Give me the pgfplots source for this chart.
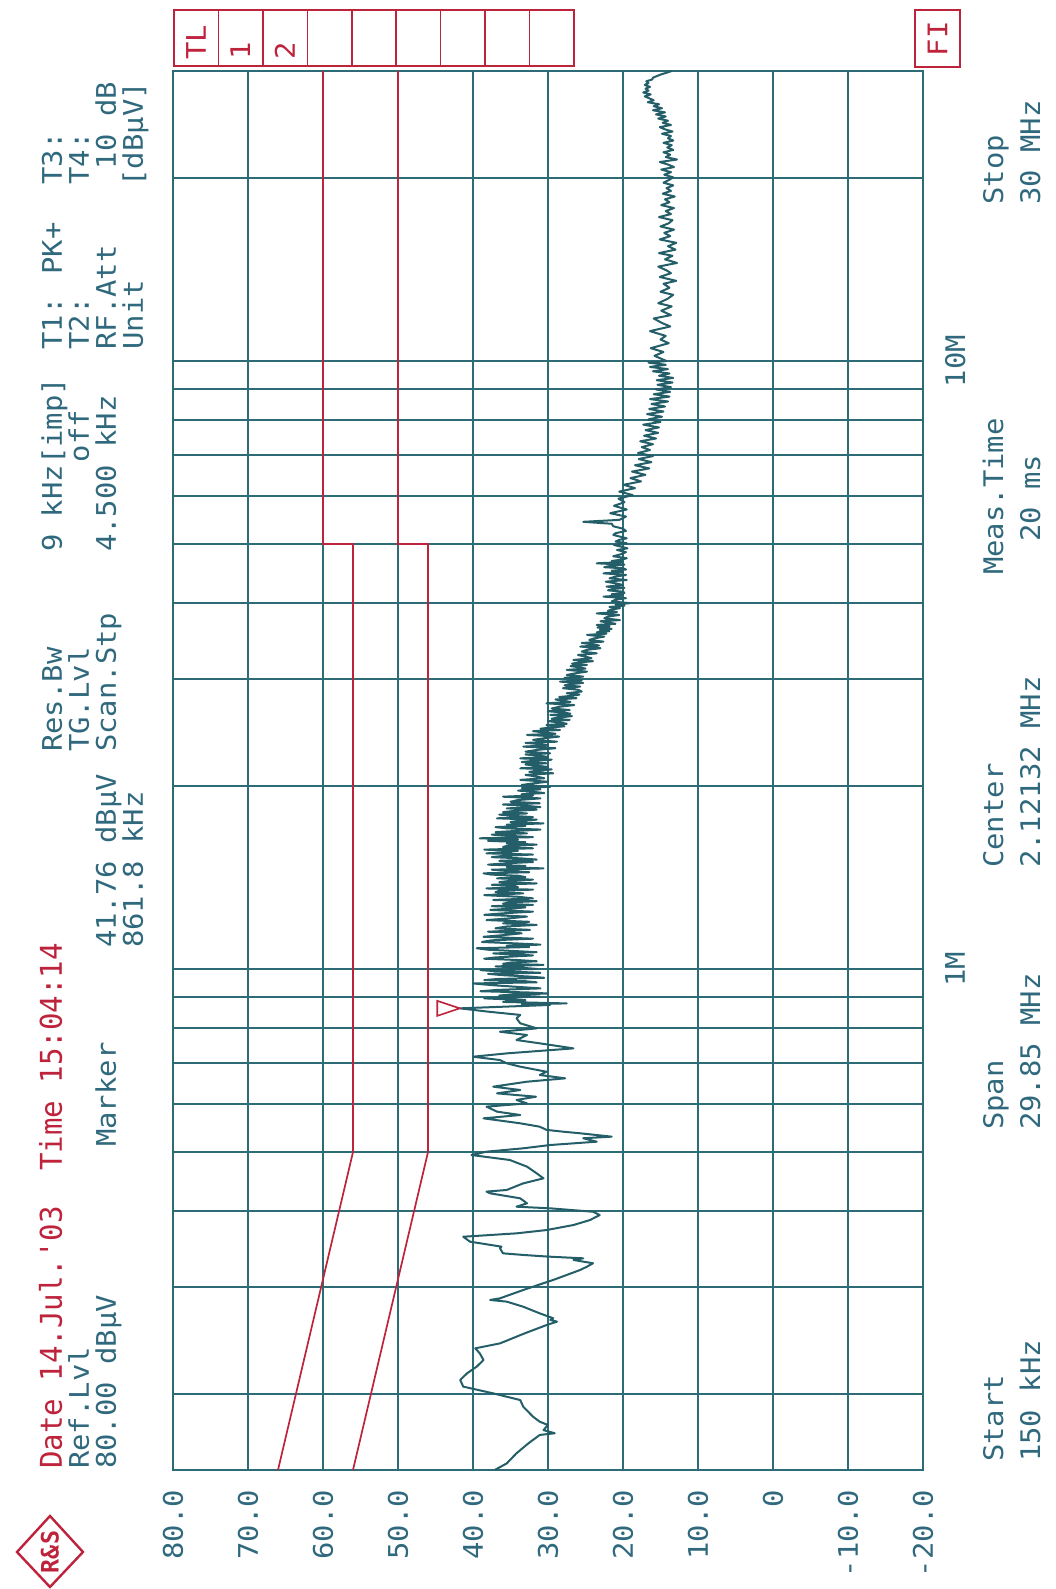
\documentclass[border=0pt]{standalone}
\usepackage{pgfplots}
\pgfplotsset{compat=1.18}
\usepackage{pgfplotstable}
\usepackage{fontspec}
\newfontfamily\plotfont[FakeStretch=1.07]{DejaVu Sans Mono}
\newfontfamily\redfont[FakeStretch=0.97]{DejaVu Sans Mono}
\newcommand\pf{\plotfont\fontsize{27}{27}\selectfont}
\newcommand\rf{\redfont\fontsize{30}{30}\selectfont}
\definecolor{gridc}{RGB}{45,108,118}
\definecolor{tracec}{RGB}{36,94,104}
\definecolor{txtc}{RGB}{48,105,125}
\definecolor{redc}{RGB}{190,35,60}

\pgfplotstableread{
f L
0.1500 37.1
0.1538 35.5
0.1598 34.2
0.1660 32.6
0.1713 31.1
0.1724 29.1
0.1745 30.6
0.1779 30.0
0.1801 31.1
0.1836 32.0
0.1907 33.3
0.1955 33.7
0.2005 37.3
0.2057 41.3
0.2109 41.7
0.2163 40.8
0.2219 39.5
0.2275 38.6
0.2334 39.1
0.2378 39.7
0.2423 36.4
0.2517 33.1
0.2597 30.2
0.2631 28.8
0.2648 29.7
0.2665 29.3
0.2715 31.1
0.2784 33.3
0.2838 35.5
0.2856 37.7
0.2874 36.4
0.2966 33.3
0.3081 29.3
0.3200 25.7
0.3240 24.8
0.3282 24.0
0.3323 26.6
0.3344 25.3
0.3366 30.0
0.3387 33.3
0.3408 36.0
0.3474 36.4
0.3495 36.2
0.3562 40.4
0.3629 41.3
0.3676 34.2
0.3722 30.2
0.3794 26.6
0.3866 24.4
0.3940 23.1
0.3990 24.0
0.4041 29.7
0.4066 34.2
0.4118 32.8
0.4197 33.7
0.4277 37.7
0.4305 38.2
0.4332 35.5
0.4442 33.3
0.4527 30.6
0.4613 31.5
0.4732 32.8
0.4853 35.1
0.4945 40.2
0.5008 38.2
0.5072 33.3
0.5136 29.7
0.5201 23.5
0.5269 25.3
0.5301 21.5
0.5369 25.7
0.5402 28.0
0.5439 30.2
0.5505 31.1
0.5576 33.7
0.5682 38.6
0.5754 33.7
0.5828 36.8
0.5939 38.2
0.6014 32.8
0.6091 34.2
0.6167 31.6
0.6246 36.8
0.6326 33.7
0.6406 37.3
0.6528 32.8
0.6611 27.7
0.6696 31.1
0.6779 30.2
0.6910 33.7
0.6998 35.5
0.7086 36.4
0.7176 40.0
0.7267 35.5
0.7406 26.6
0.7549 31.1
0.7644 34.2
0.7791 32.8
0.7889 36.4
0.7989 31.5
0.8143 33.7
0.8300 34.2
0.8406 33.7
0.8511 38.0
0.8618 41.76
0.8729 29.7
0.8760 33.5
0.8780 27.5
0.8830 36.0
0.8890 33.0
0.8950 38.5
0.9010 31.1
0.9045 36.5
0.9080 35.0
0.9115 30.0
0.9150 32.4
0.9195 39.0
0.9240 36.8
0.9295 31.0
0.9350 34.2
0.9410 37.5
0.9470 40.0
0.9510 31.5
0.9550 33.0
0.9590 38.5
0.9630 36.8
0.9675 30.5
0.9720 32.4
0.9770 36.0
0.9820 38.0
0.9860 31.0
0.9900 34.5
0.9930 37.5
0.9960 39.0
1.0005 31.5
1.005 33.5
1.010 37.0
1.016 30.6
1.020 36.0
1.025 35.0
1.030 31.5
1.035 34.2
1.040 38.5
1.045 37.0
1.053 32.0
1.061 37.3
1.066 31.5
1.070 34.0
1.076 38.0
1.082 39.5
1.087 32.5
1.092 35.5
1.097 31.0
1.102 34.2
1.108 38.8
1.115 37.5
1.122 32.0
1.130 38.6
1.137 36.0
1.145 33.5
1.152 38.0
1.160 32.4
1.167 37.0
1.175 35.5
1.182 31.5
1.189 36.0
1.196 32.5
1.204 38.2
1.212 35.0
1.220 32.8
1.228 38.5
1.235 36.0
1.243 32.0
1.251 37.7
1.257 35.0
1.263 33.0
1.269 37.5
1.275 32.0
1.281 36.0
1.288 35.0
1.293 31.5
1.299 37.3
1.307 32.0
1.315 34.0
1.323 38.5
1.332 33.3
1.338 37.0
1.345 36.5
1.351 32.0
1.357 38.2
1.363 34.0
1.370 34.5
1.376 37.5
1.383 31.5
1.390 36.5
1.397 35.0
1.403 32.0
1.410 36.8
1.417 33.0
1.424 34.0
1.430 37.5
1.437 38.6
1.443 32.5
1.450 35.0
1.457 37.5
1.464 30.6
1.471 35.5
1.478 33.0
1.485 38.0
1.493 35.5
1.500 32.0
1.507 36.5
1.514 31.5
1.521 33.7
1.528 37.5
1.535 36.0
1.543 32.0
1.550 38.2
1.557 35.5
1.565 34.0
1.572 38.5
1.580 32.0
1.587 36.0
1.595 35.5
1.602 31.5
1.610 35.5
1.617 33.0
1.625 38.0
1.633 34.0
1.641 39.1
1.648 32.0
1.656 35.0
1.664 37.5
1.672 32.8
1.680 37.0
1.688 34.0
1.696 31.0
1.704 35.5
1.712 37.0
1.720 33.0
1.728 35.5
1.736 30.6
1.745 35.0
1.753 34.0
1.761 31.5
1.770 36.8
1.778 32.0
1.786 34.5
1.795 36.5
1.803 32.8
1.812 36.0
1.820 34.5
1.829 31.5
1.838 35.5
1.847 31.0
1.856 33.0
1.865 36.0
1.874 31.1
1.885 35.0
1.897 34.0
1.909 31.0
1.921 36.0
1.930 32.0
1.939 33.5
1.948 30.5
1.957 32.0
1.966 34.0
1.975 31.0
1.985 33.5
1.995 29.7
2.008 33.5
2.020 32.0
2.033 30.0
2.047 33.7
2.060 30.5
2.073 31.5
2.086 33.0
2.099 29.3
2.110 32.5
2.120 31.5
2.130 29.5
2.139 33.7
2.150 30.0
2.160 31.5
2.170 33.0
2.180 30.2
2.190 33.5
2.200 32.0
2.210 29.5
2.221 33.7
2.232 30.0
2.243 31.0
2.254 33.0
2.264 29.7
2.278 33.0
2.293 31.5
2.308 29.0
2.322 33.3
2.333 30.0
2.344 31.0
2.355 33.0
2.366 28.8
2.382 32.0
2.397 30.5
2.412 28.5
2.427 32.8
2.438 29.0
2.450 30.5
2.462 32.0
2.473 28.4
2.485 31.0
2.497 29.5
2.508 27.8
2.520 30.2
2.532 27.5
2.545 28.5
2.557 30.0
2.569 27.1
2.581 29.5
2.594 28.5
2.606 26.8
2.618 29.7
2.630 27.0
2.643 28.0
2.655 30.0
2.667 27.1
2.683 29.5
2.700 28.5
2.718 26.5
2.736 30.2
2.750 27.0
2.763 28.0
2.776 29.0
2.789 26.2
2.802 28.5
2.815 26.8
2.828 25.8
2.842 27.5
2.861 25.5
2.880 26.0
2.897 28.0
2.915 25.7
2.928 27.8
2.942 27.0
2.956 25.3
2.970 28.4
2.985 25.5
3.000 26.5
3.013 27.8
3.027 25.3
3.046 27.5
3.066 26.3
3.085 24.8
3.105 27.5
3.120 25.0
3.135 25.8
3.150 27.0
3.164 24.8
3.179 26.8
3.194 25.8
3.209 24.0
3.224 26.6
3.245 24.2
3.265 25.0
3.285 26.0
3.306 23.5
3.328 25.5
3.350 24.8
3.371 23.0
3.392 25.7
3.406 23.2
3.420 24.0
3.438 25.5
3.456 22.6
3.478 24.5
3.500 23.8
3.522 22.5
3.545 24.8
3.562 22.2
3.580 23.5
3.596 21.8
3.611 23.1
3.628 21.5
3.645 23.4
3.663 21.8
3.681 23.5
3.698 21.0
3.715 22.0
3.733 23.0
3.750 20.4
3.775 22.5
3.800 22.0
3.823 20.5
3.846 23.5
3.866 20.8
3.885 22.0
3.904 21.5
3.923 20.4
3.941 21.8
3.960 19.8
3.979 21.0
3.998 19.1
4.024 21.5
4.050 21.0
4.074 19.6
4.098 22.6
4.117 20.0
4.135 21.5
4.156 19.8
4.176 20.0
4.196 22.0
4.215 21.5
4.236 19.8
4.256 22.2
4.283 20.0
4.310 21.0
4.337 22.3
4.364 19.5
4.392 21.8
4.420 21.0
4.448 19.6
4.476 22.6
4.498 20.0
4.520 21.5
4.541 19.6
4.562 20.0
4.581 22.5
4.600 21.8
4.625 19.8
4.649 23.5
4.670 20.0
4.690 21.5
4.715 20.2
4.739 19.5
4.775 21.3
4.810 20.3
4.850 19.6
4.890 20.8
4.920 19.4
4.950 20.2
4.983 21.2
5.016 19.5
5.048 21.0
5.080 20.5
5.111 19.5
5.143 20.4
5.176 21.3
5.210 21.0
5.255 19.6
5.300 20.0
5.350 21.3
5.400 21.5
5.440 25.3
5.480 20.5
5.550 19.6
5.620 21.7
5.700 19.5
5.780 21.2
5.860 19.8
5.940 20.6
6.020 18.7
6.100 20.5
6.180 18.4
6.260 19.9
6.340 17.6
6.420 19.0
6.500 17.0
6.580 18.8
6.660 16.5
6.740 18.4
6.820 16.2
6.900 17.9
6.980 16.0
7.060 18.0
7.140 16.4
7.220 17.5
7.300 16.0
7.380 17.7
7.460 15.6
7.540 17.2
7.620 15.3
7.700 17.0
7.780 15.2
7.860 17.3
7.940 15.0
8.020 16.6
8.100 14.8
8.180 16.8
8.260 14.6
8.340 16.5
8.420 14.4
8.500 16.2
8.580 14.0
8.660 16.4
8.740 13.8
8.820 15.9
8.900 13.7
8.980 15.6
9.060 13.6
9.140 15.4
9.220 13.4
9.300 15.5
9.380 13.3
9.460 15.2
9.540 13.8
9.620 16.0
9.700 14.0
9.780 16.4
9.860 14.3
9.940 16.6
10.00 14.2
10.20 15.8
10.35 14.6
10.50 16.3
10.70 13.9
10.85 15.0
11.00 14.3
11.20 16.4
11.40 13.7
11.55 14.8
11.75 15.9
11.90 13.6
12.10 14.9
12.30 13.5
12.45 15.3
12.65 14.1
12.85 13.3
13.00 15.0
13.20 13.8
13.40 14.6
13.55 12.9
13.75 15.1
13.95 13.6
14.10 14.2
14.30 15.3
14.50 12.8
14.70 14.4
14.90 13.4
15.05 15.2
15.25 13.0
15.45 14.0
15.65 12.9
15.85 15.1
16.05 13.7
16.25 14.5
16.45 13.2
16.65 15.0
16.85 13.9
17.05 13.4
17.25 15.2
17.45 13.6
17.65 14.3
17.85 13.2
18.05 14.9
18.25 13.8
18.45 14.4
18.65 13.1
18.85 14.7
19.05 13.6
19.25 14.2
19.45 13.3
19.65 14.6
19.85 13.9
20.05 13.3
20.25 14.5
20.45 13.6
20.65 14.9
20.85 13.2
21.05 14.0
21.25 15.1
21.45 12.8
21.65 14.3
21.85 13.7
22.05 14.6
22.25 13.3
22.45 14.1
22.65 13.5
22.85 14.6
23.05 13.3
23.25 14.0
23.45 13.6
23.65 14.8
23.85 13.4
24.05 14.4
24.25 15.1
24.45 13.6
24.65 14.7
24.85 14.0
25.05 15.3
25.25 14.3
25.45 15.6
25.65 14.4
25.85 16.0
26.05 14.8
26.25 15.9
26.45 15.2
26.65 16.7
26.85 15.9
27.05 16.5
27.25 17.1
27.45 16.3
27.65 17.3
27.85 16.6
28.05 17.0
28.25 16.4
28.45 17.1
28.65 16.6
28.85 16.9
29.05 16.1
29.25 16.0
29.45 15.4
29.65 14.8
29.85 14.0
30.00 13.5
}\trace

\begin{document}
\begin{tikzpicture}
\useasboundingbox (-173pt,-119pt) rectangle (883pt,1470pt);
\begin{axis}[
  at={(0pt,0pt)}, anchor=south west,
  scale only axis, width=750pt, height=1399pt,
  xmin=-20, xmax=80, x dir=reverse,
  ymode=log, ymin=0.15, ymax=30,
  xtick={-20,-10,0,10,20,30,40,50,60,70,80},
  xticklabels={-20.0,-10.0,0,10.0,20.0,30.0,40.0,50.0,60.0,70.0,80.0},
  xticklabel style={yshift=-20pt, rotate=90, anchor=east, inner sep=0pt, font=\pf, text=txtc},
  ytick={1,10}, yticklabels={1M,10M},
  minor ytick={0.2,0.3,0.4,0.5,0.6,0.7,0.8,0.9,2,3,4,5,6,7,8,9,20},
  yticklabel pos=right,
  yticklabel style={xshift=22pt, rotate=90, anchor=north, inner sep=0pt, font=\pf, text=txtc},
  grid=both,
  major grid style={gridc, line width=1.6pt},
  minor grid style={gridc, line width=1.6pt},
  major tick length=0pt, minor tick length=0pt,
  axis line style={gridc, line width=2pt},
]
\addplot[redc, line width=1.7pt] coordinates {(66,0.15) (56,0.5) (56,5) (60,5) (60,30)};
\addplot[redc, line width=1.7pt] coordinates {(56,0.15) (46,0.5) (46,5) (50,5) (50,30)};
\addplot[tracec, line width=2pt, line join=round] table[x=L, y=f] {\trace};
\addplot[redc, line width=1.6pt, line join=miter] coordinates {(41.76,0.8618) (44.76,0.8866) (44.76,0.8377) (41.76,0.8618) (44.76,0.8866)};
\end{axis}

\tikzset{hdr/.style={rotate=90, inner sep=0pt, font=\pf, text=txtc}}
% header line 1
\node[rotate=90, inner sep=0pt, font=\rf, text=redc, anchor=base west] at (-111pt,1pt) {Date 14.Jul.'03\ \ Time 15:04:14};
\node[hdr, anchor=base west] at (-111pt,718pt) {Res.Bw};
\node[hdr, anchor=base west] at (-111pt,918pt) {9 kHz[imp]};
\node[hdr, anchor=base west] at (-111pt,1120pt) {T1: PK+};
\node[hdr, anchor=base west] at (-111pt,1285pt) {T3:};
% header line 2
\node[hdr, anchor=base west] at (-84pt,1pt) {Ref.Lvl};
\node[hdr, anchor=base west] at (-84pt,718pt) {TG.Lvl};
\node[hdr, anchor=base east] at (-84pt,1060pt) {off};
\node[hdr, anchor=base west] at (-84pt,1120pt) {T2:};
\node[hdr, anchor=base west] at (-84pt,1285pt) {T4:};
% header line 3
\node[hdr, anchor=base west] at (-57pt,1pt) {80.00 dBµV};
\node[hdr, anchor=base west] at (-57pt,323pt) {Marker};
\node[hdr, anchor=base west] at (-57pt,522pt) {41.76 dBµV};
\node[hdr, anchor=base west] at (-57pt,718pt) {Scan.Stp};
\node[hdr, anchor=base west] at (-57pt,918pt) {4.500 kHz};
\node[hdr, anchor=base west] at (-57pt,1120pt) {RF.Att};
\node[hdr, anchor=base east] at (-57pt,1388pt) {10 dB};
% header line 4
\node[hdr, anchor=base west] at (-30pt,522pt) {861.8 kHz};
\node[hdr, anchor=base west] at (-30pt,1120pt) {Unit};
\node[hdr, anchor=base east] at (-30pt,1388pt) {[dBµV]};
% bottom annotations
\node[hdr, anchor=base west] at (830pt,8pt) {Start};
\node[hdr, anchor=base west] at (867pt,8pt) {150 kHz};
\node[hdr, anchor=base west] at (830pt,340pt) {Span};
\node[hdr, anchor=base west] at (867pt,340pt) {29.85 MHz};
\node[hdr, anchor=base west] at (830pt,602pt) {Center};
\node[hdr, anchor=base west] at (867pt,602pt) {2.12132 MHz};
\node[hdr, anchor=base west] at (830pt,895pt) {Meas.Time};
\node[hdr, anchor=base west] at (867pt,928pt) {20 ms};
\node[hdr, anchor=base west] at (830pt,1265pt) {Stop};
\node[hdr, anchor=base west] at (867pt,1265pt) {30 MHz};
% TL table
\draw[redc, line width=1.6pt] (1pt,1404pt) rectangle (401pt,1460pt);
\foreach \k in {1,...,8} {\draw[redc, line width=1.6pt] ({1pt+44.44pt*\k},1404pt) -- ({1pt+44.44pt*\k},1460pt);}
\node[hdr, text=redc, anchor=west] at (23pt,1410pt) {TL};
\node[hdr, text=redc, anchor=west] at (67.4pt,1410pt) {1};
\node[hdr, text=redc, anchor=west] at (111.8pt,1410pt) {2};
% FI box
\draw[redc, line width=1.6pt] (742pt,1403pt) rectangle (787pt,1460pt);
\node[hdr, text=redc, anchor=center] at (764.5pt,1431pt) {FI};
% logo
\draw[redc, line width=2.4pt] (-123pt,-46pt) -- (-90pt,-82pt) -- (-123pt,-117pt) -- (-156pt,-82pt) -- cycle;
\node[rotate=90, inner sep=0pt, text=redc, font=\redfont\fontsize{24}{24}\selectfont\bfseries] at (-123pt,-82pt) {R\&S};
\end{tikzpicture}
\end{document}
